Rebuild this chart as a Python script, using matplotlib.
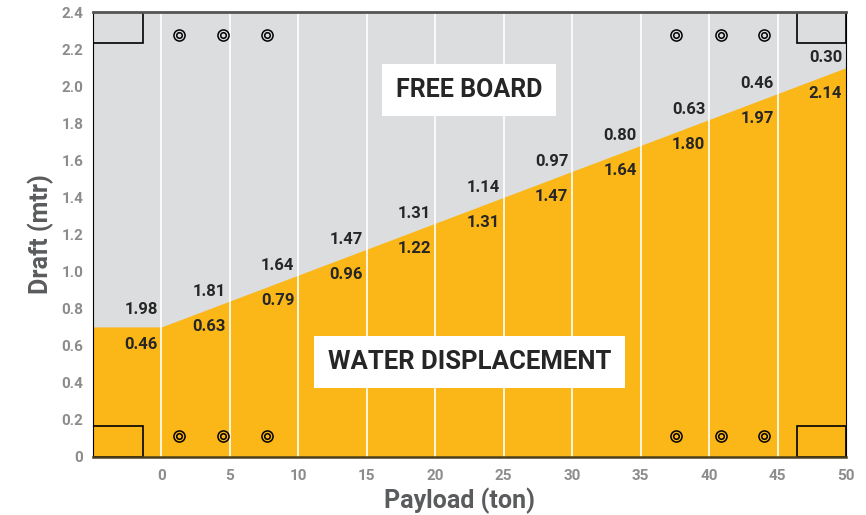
import numpy as np
import matplotlib.pyplot as plt
from matplotlib.patches import Rectangle

# waterline
payload = [-5, 0, 5, 10, 15, 20, 25, 30, 35, 40, 45, 50]
waterline = [0.70, 0.70, 0.84, 0.98, 1.12, 1.26, 1.40, 1.54, 1.68, 1.82, 1.96, 2.10]

# value labels per payload step
label_payload = [0, 5, 10, 15, 20, 25, 30, 35, 40, 45, 50]
free_board = ['1.98', '1.81', '1.64', '1.47', '1.31', '1.14', '0.97', '0.80', '0.63', '0.46', '0.30']
displacement = ['0.46', '0.63', '0.79', '0.96', '1.22', '1.31', '1.47', '1.64', '1.80', '1.97', '2.14']

# little ring markers (bolt holes)
ring_x = [1.3, 4.5, 7.7, 37.6, 40.85, 44.0]
ring_top = 2.277
ring_bottom = 0.113

xticks = [0, 5, 10, 15, 20, 25, 30, 35, 40, 45, 50]
yticks = [0, 0.2, 0.4, 0.6, 0.8, 1.0, 1.2, 1.4, 1.6, 1.8, 2.0, 2.2, 2.4]
ytick_labels = ['0', '0.2', '0.4', '0.6', '0.8', '1.0', '1.2', '1.4', '1.6', '1.8', '2.0', '2.2', '2.4']

plt.rcParams['font.family'] = ['Roboto', 'DejaVu Sans']

orange = '#FBB718'
grey_bg = '#DCDDDE'
dark = '#262626'
axis_grey = '#8C8C8C'

fig = plt.figure(figsize=(8.66, 5.15), dpi=100)
ax = fig.add_axes([0.1074, 0.1135, 0.8695, 0.863])
ax.set_facecolor(grey_bg)
ax.set_xlim(-5, 50)
ax.set_ylim(0, 2.4)

ax.fill_between(payload, 0, waterline, color=orange, lw=0, zorder=1)
ax.vlines(xticks[:-1], 0, 2.4, color='white', lw=1.2, zorder=2)

# corner boxes
for x0, y0 in [(-5, 0), (-5, 2.232), (46.4, 0), (46.4, 2.232)]:
    h = 0.165 if y0 == 0 else 2.4 - y0
    ax.add_patch(Rectangle((x0, y0), 3.63, h, fill=False, ec='black', lw=1.2, zorder=3))

for yy in [ring_top, ring_bottom]:
    ax.plot(ring_x, [yy] * len(ring_x), 'o', ms=8, mfc='none', mec='black', mew=1.1, zorder=4)
    ax.plot(ring_x, [yy] * len(ring_x), 'o', ms=4, mfc='none', mec='black', mew=1.1, zorder=4)

lx = np.array(label_payload) - 1.5
base = np.interp(lx, payload, waterline)
for x, b, fb, dp in zip(lx, base, free_board, displacement):
    ax.text(x, b + 0.095, fb, ha='center', va='center', fontsize=12,
            fontweight='bold', color=dark, zorder=5)
    ax.text(x, b - 0.095, dp, ha='center', va='center', fontsize=12,
            fontweight='bold', color=dark, zorder=5)

ax.text(22.45, 1.98, 'FREE BOARD', ha='center', va='center', fontsize=18,
        fontweight='bold', color=dark, zorder=6,
        bbox=dict(boxstyle='square,pad=0.55', fc='white', ec='none'))
ax.text(22.5, 0.51, 'WATER DISPLACEMENT', ha='center', va='center', fontsize=18.5,
        fontweight='bold', color=dark, zorder=6,
        bbox=dict(boxstyle='square,pad=0.55', fc='white', ec='none'))

ax.set_xticks(xticks)
ax.set_yticks(yticks)
ax.set_yticklabels(ytick_labels)
ax.tick_params(length=0, labelsize=11, labelcolor=axis_grey)
ax.tick_params(axis='x', pad=9)
ax.tick_params(axis='y', pad=7)
for lab in ax.get_xticklabels() + ax.get_yticklabels():
    lab.set_fontweight('bold')

ax.set_xlabel('Payload (ton)', fontsize=18, fontweight='bold', color='#5A5B5D', labelpad=3, x=0.487)
ax.set_ylabel('Draft (mtr)', fontsize=18, fontweight='bold', color='#5A5B5D', labelpad=5)

ax.spines['top'].set_color('#555555')
ax.spines['top'].set_linewidth(2)
ax.spines['left'].set_color('black')
ax.spines['right'].set_color('black')
ax.spines['bottom'].set_color('#4a3f1a')
ax.spines['bottom'].set_linewidth(1.8)
for s in ax.spines.values():
    s.set_zorder(7)

fig.savefig('out.png', dpi=100)
